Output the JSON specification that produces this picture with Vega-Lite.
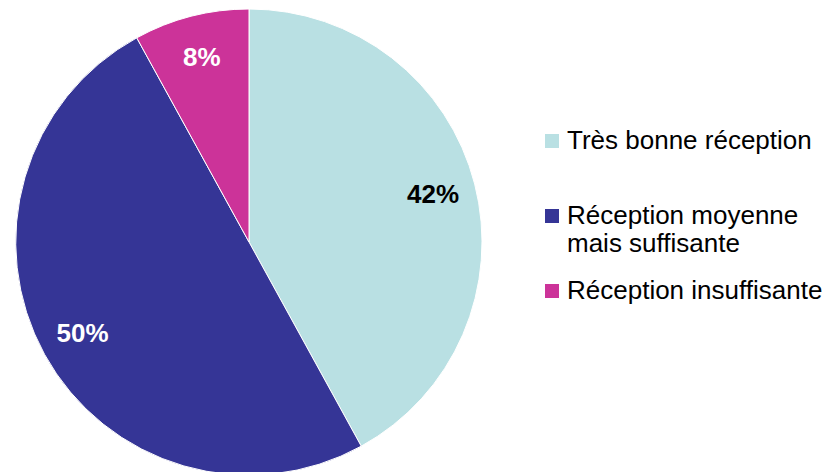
{
  "$schema": "https://vega.github.io/schema/vega-lite/v6.json",
  "width": 498,
  "height": 460,
  "autosize": "none",
  "padding": {"left": 0, "top": 12, "right": 331, "bottom": 0},
  "background": "white",
  "config": {"view": {"stroke": null}, "font": "Liberation Sans"},
  "data": {
    "values": [
      {"cat": "Très bonne réception", "pct": 42, "label": "42%", "ord": 1},
      {"cat": "Réception moyenne\nmais suffisante", "pct": 50, "label": "50%", "ord": 2},
      {"cat": "Réception insuffisante", "pct": 8, "label": "8%", "ord": 3}
    ]
  },
  "encoding": {
    "theta": {"field": "pct", "type": "quantitative", "stack": true},
    "order": {"field": "ord", "type": "quantitative"}
  },
  "resolve": {"scale": {"color": "independent"}},
  "layer": [
    {
      "mark": {"type": "arc", "outerRadius": 233, "stroke": "white", "strokeWidth": 1},
      "encoding": {
        "color": {
          "field": "cat",
          "type": "nominal",
          "sort": ["Très bonne réception", "Réception moyenne\nmais suffisante", "Réception insuffisante"],
          "scale": {
            "domain": ["Très bonne réception", "Réception moyenne\nmais suffisante", "Réception insuffisante"],
            "range": ["#B9E0E3", "#353596", "#CC3399"]
          },
          "legend": {
            "title": null,
            "orient": "none",
            "legendX": 539,
            "legendY": 116,
            "padding": 0,
            "symbolType": "square",
            "symbolSize": 196,
            "symbolStrokeWidth": 0,
            "symbolOpacity": 1,
            "labelFontSize": 26,
            "labelFont": "Liberation Sans",
            "labelColor": "black",
            "labelOffset": 2,
            "labelLimit": 400,
            "labelExpr": "split(datum.label, '\\n')",
            "rowPadding": 21,
            "gridAlign": "all"
          }
        }
      }
    },
    {
      "mark": {"type": "text", "radius": 190, "fontSize": 26, "fontWeight": "bold", "font": "Liberation Sans"},
      "encoding": {
        "text": {"field": "label"},
        "color": {
          "field": "label",
          "type": "nominal",
          "scale": {"domain": ["42%", "50%", "8%"], "range": ["black", "white", "white"]},
          "legend": null
        }
      }
    }
  ]
}
